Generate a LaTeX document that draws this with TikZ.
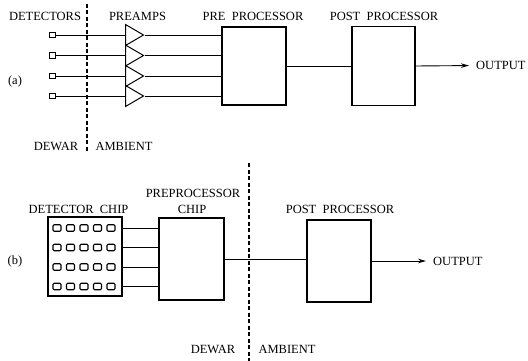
\documentclass[tikz,border=0pt]{standalone}
\usepackage{fontspec}
\setmainfont{Liberation Serif}
\usetikzlibrary{shapes.geometric, arrows.meta, positioning}

\begin{document}
\begin{tikzpicture}[
    x=1pt, y=-1pt,
    box/.style={rectangle, draw=black, line width=1.2pt, inner sep=0pt},
    amp/.style={isosceles triangle, isosceles triangle stretches, draw=black,
                line width=1pt, inner sep=0pt, minimum width=21pt,
                minimum height=18pt, anchor=west},
    det/.style={rectangle, draw=black, line width=1.3pt, minimum size=5.5pt, inner sep=0pt},
    pix/.style={rectangle, rounded corners=1.2pt, draw=black, line width=1.1pt,
                minimum width=8pt, minimum height=6.5pt, inner sep=0pt},
    wire/.style={line width=0.9pt},
    arrow/.style={-{Stealth[length=8pt,width=4.5pt]}, line width=0.9pt, shorten >=7pt},
    wall/.style={dash pattern=on 4pt off 2.5pt, line width=1.1pt},
    lbl/.style={font=\fontsize{12.5}{14}\selectfont, anchor=base, inner sep=0pt}
]
\useasboundingbox (0,0) rectangle (528,361);

% (a) discrete detectors and preamps
\node[lbl] (a_det_title) at (45,21) {DETECTORS};
\node[lbl] (a_amp_title) at (137.5,21) {PREAMPS};
\node[lbl] (a_pre_title) at (253,21) {PRE\enspace PROCESSOR};
\node[lbl] (a_post_title) at (384,21) {POST\enspace PROCESSOR};
\node[lbl, anchor=center] (a_tag) at (15,81) {(a)};

\node[box, minimum width=64pt, minimum height=78pt] (a_pre) at (254,66) {};
\node[box, minimum width=63pt, minimum height=79pt] (a_post) at (383.5,66) {};

\foreach \i/\y in {1/35,2/55.5,3/76,4/96}{
  \node[det] (a_det\i) at (52.5,\y) {};
  \node[amp] (a_amp\i) at (125,\y) {};
  \draw[wire] (a_det\i) -- (a_amp\i.west);
  \draw[wire] (a_amp\i.apex) -- (a_amp\i.apex -| a_pre.west);
}
\draw[wire] (a_pre.east) -- (a_post.west);
\node[lbl, anchor=west] (a_out) at (476,65.5) {OUTPUT};
\draw[arrow] (a_post.east) -- (a_out.west);

\coordinate (a_wall_top) at (87,4);
\coordinate (a_wall_bot) at (87,152);
\draw[wall] (a_wall_top) -- (a_wall_bot);
\node[lbl] (a_dewar) at (56,150) {DEWAR};
\node[lbl] (a_amb) at (124,150) {AMBIENT};

% (b) detector chip and preprocessor chip
\node[lbl] (b_pp_title) at (193,197) {PREPROCESSOR};
\node[lbl] (b_pp_title2) at (192,213) {CHIP};
\node[lbl] (b_chip_title) at (78.5,213) {DETECTOR\enspace CHIP};
\node[lbl] (b_post_title) at (340,213) {POST\enspace PROCESSOR};
\node[lbl, anchor=center] (b_tag) at (15,261) {(b)};

\node[box, minimum width=74pt, minimum height=79pt] (b_chip) at (85,256.5) {};
\node[box, minimum width=65pt, minimum height=82pt] (b_pre) at (191.5,259) {};
\node[box, minimum width=64pt, minimum height=82pt] (b_post) at (339,261) {};

\foreach \r/\y in {1/228,2/247.5,3/267,4/286.5}{
  \foreach \c/\x in {1/57,2/70.5,3/84,4/97.5,5/111}{
    \node[pix] (b_pix\r\c) at (\x,\y) {};
  }
  \draw[wire] (b_pix\r5 -| b_chip.east) -- (b_pix\r5 -| b_pre.west);
}
\draw[wire] (b_pre.east) -- (b_pre.east -| b_post.west);
\node[lbl, anchor=west] (b_out) at (433,261) {OUTPUT};
\draw[arrow] (b_post.east) -- (b_out.west);

\coordinate (b_wall_top) at (249,163);
\coordinate (b_wall_bot) at (249,361);
\draw[wall] (b_wall_top) -- (b_wall_bot);
\node[lbl] (b_dewar) at (213,353) {DEWAR};
\node[lbl] (b_amb) at (287,353) {AMBIENT};

\end{tikzpicture}
\end{document}
